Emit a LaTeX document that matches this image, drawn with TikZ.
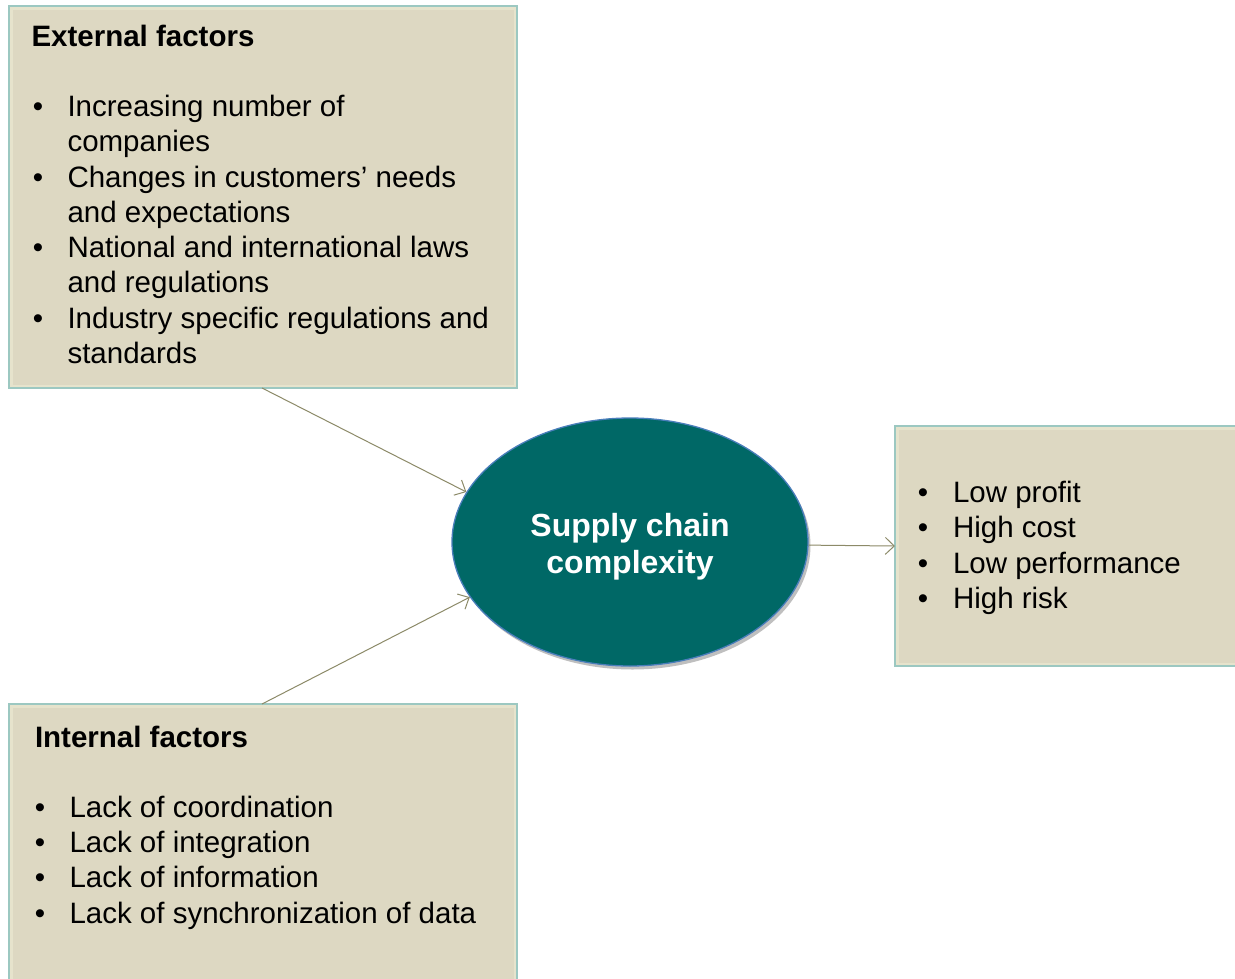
\documentclass[tikz,border=0pt]{standalone}
\usepackage{fontspec}
\setmainfont{Liberation Sans}
\usetikzlibrary{arrows.meta,shapes.geometric,shadows}
\definecolor{boxfill}{HTML}{DDD8C2}
\definecolor{boxlight}{HTML}{E6E3CC}
\definecolor{boxedge}{HTML}{9CC8C1}
\definecolor{ellfill}{HTML}{006866}
\definecolor{elledge}{HTML}{4A7EBB}
\definecolor{arrowcol}{HTML}{8C8A68}
\begin{document}
\begin{tikzpicture}[x=1pt,y=-1pt,
  factorbox/.style={draw=boxedge, line width=1.3pt, fill=boxlight, inner sep=0pt, outer sep=0pt,
    path picture={\fill[boxfill] ([shift={(3.5pt,-3.5pt)}]path picture bounding box.north west) rectangle ([shift={(-3.5pt,3.5pt)}]path picture bounding box.south east);}},
  itemtext/.style={anchor=base west, inner sep=0pt, outer sep=0pt, font=\fontsize{29.5}{35}\selectfont},
  titletext/.style={itemtext, font=\bfseries\fontsize{29.5}{35}\selectfont},
  bulletmark/.style={anchor=base, inner sep=0pt, outer sep=0pt, font=\fontsize{29.5}{35}\selectfont},
  coretext/.style={anchor=base, inner sep=0pt, text=white, font=\bfseries\fontsize{32}{38}\selectfont},
  conn/.style={draw=arrowcol, line width=1pt, -{Straight Barb[length=9pt,width=17pt]}}
]
\useasboundingbox (0,0) rectangle (1235,978);
\fill[white] (0,0) rectangle (1235,978);

% boxes
\node[factorbox, minimum width=508pt, minimum height=382pt, anchor=north west] (ext) at (9,6) {};
\node[factorbox, minimum width=508pt, minimum height=290pt, anchor=north west] (int) at (9,704) {};
\node[factorbox, minimum width=350pt, minimum height=240pt, anchor=north west] (res) at (895,426) {};

% ellipse
\node[ellipse, draw=elledge, line width=1.3pt, fill=ellfill, minimum width=356pt, minimum height=248pt, inner sep=0pt,
  drop shadow={shadow xshift=2.5pt, shadow yshift=-3.5pt, fill=black, opacity=0.25}] (scc) at (630,542) {};
\node[coretext] (scc1) at (630,536) {Supply chain};
\node[coretext] (scc2) at (630,573) {complexity};

% external factors
\node[titletext] (et) at (31.5,46) {External factors};
\node[bulletmark] (eb1) at (38,116) {•};
\node[itemtext] (e1) at (67.5,116) {Increasing number of};
\node[itemtext] (e1b) at (67.5,151) {companies};
\node[bulletmark] (eb2) at (38,187) {•};
\node[itemtext] (e2) at (67.5,187) {Changes in customers’ needs};
\node[itemtext] (e2b) at (67.5,222) {and expectations};
\node[bulletmark] (eb3) at (38,257) {•};
\node[itemtext] (e3) at (67.5,257) {National and international laws};
\node[itemtext] (e3b) at (67.5,292) {and regulations};
\node[bulletmark] (eb4) at (38,328) {•};
\node[itemtext] (e4) at (67.5,328) {Industry specific regulations and};
\node[itemtext] (e4b) at (67.5,363) {standards};

% internal factors
\node[titletext] (it) at (35,747) {Internal factors};
\node[bulletmark] (ib1) at (40,817) {•};
\node[itemtext] (i1) at (69.5,817) {Lack of coordination};
\node[bulletmark] (ib2) at (40,852) {•};
\node[itemtext] (i2) at (69.5,852) {Lack of integration};
\node[bulletmark] (ib3) at (40,887) {•};
\node[itemtext] (i3) at (69.5,887) {Lack of information};
\node[bulletmark] (ib4) at (40,923) {•};
\node[itemtext] (i4) at (69.5,923) {Lack of synchronization of data};

% results
\node[bulletmark] (rb1) at (923,502) {•};
\node[itemtext] (r1) at (953,502) {Low profit};
\node[bulletmark] (rb2) at (923,537) {•};
\node[itemtext] (r2) at (953,537) {High cost};
\node[bulletmark] (rb3) at (923,573) {•};
\node[itemtext] (r3) at (953,573) {Low performance};
\node[bulletmark] (rb4) at (923,608) {•};
\node[itemtext] (r4) at (953,608) {High risk};

% connectors
\draw[conn] ([xshift=253pt]ext.south west) -- (scc.163);
\draw[conn] ([xshift=253pt]int.north west) -- (scc.199);
\draw[conn] (scc.-1.5) -- (res.west);
\end{tikzpicture}
\end{document}
